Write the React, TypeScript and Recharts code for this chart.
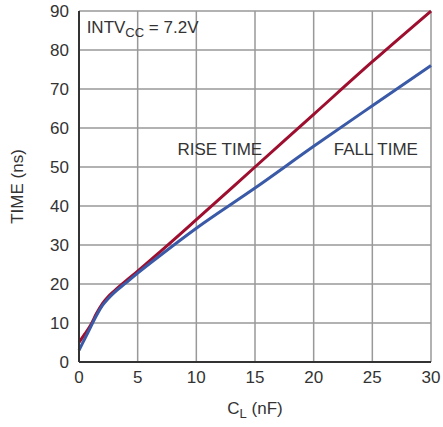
import { LineChart, Line, XAxis, YAxis, CartesianGrid, ReferenceDot } from "recharts"

// load capacitance in nF
const capacitance = [0, 0.5, 1, 1.5, 2, 2.5, 3, 4, 5, 7, 10, 15, 20, 25, 30]
// times in ns
const riseTime = [5, 7.2, 9.5, 12.5, 15, 16.8, 18.2, 20.8, 23.3, 28.5, 36.5, 50, 63.5, 77, 90]
const fallTime = [3, 6, 9, 12, 14.5, 16.3, 17.8, 20.3, 22.8, 27.5, 34.3, 44.6, 55.3, 65.7, 76]

const xTicks = [0, 5, 10, 15, 20, 25, 30]
const yTicks = [0, 10, 20, 30, 40, 50, 60, 70, 80, 90]

const data = capacitance.map((c, i) => ({ c, rise: riseTime[i], fall: fallTime[i] }))

const font = "'Liberation Sans Narrow', 'Arial Narrow', 'Liberation Sans', sans-serif"
const ink = "#333"

export default function App() {
  return (
    <div style={{ position: "absolute", left: 0, top: 0, fontFamily: font }}>
      <LineChart width={443} height={427} data={data} margin={{ top: 11, right: 12, bottom: 0, left: 0 }}>
        <CartesianGrid stroke="#999" strokeWidth={1.5} />
        <XAxis
          dataKey="c"
          type="number"
          domain={[0, 30]}
          ticks={xTicks}
          height={65}
          tickSize={0}
          tickMargin={9}
          tick={{ fill: ink, fontSize: 17, fontFamily: font }}
          axisLine={{ stroke: ink, strokeWidth: 2 }}
          label={{
            content: (props: any) => {
              const vb = props.viewBox
              return (
                <text x={vb.x + vb.width / 2} y={vb.y + 52} textAnchor="middle" fill={ink} fontSize={17} fontFamily={font}>
                  C<tspan fontSize={13} dy={4}>L</tspan>
                  <tspan dy={-4}> (nF)</tspan>
                </text>
              )
            },
          }}
        />
        <XAxis xAxisId="top" orientation="top" dataKey="c" type="number" domain={[0, 30]} height={0} tick={false} tickLine={false} axisLine={{ stroke: ink, strokeWidth: 2 }} />
        <YAxis
          type="number"
          domain={[0, 90]}
          ticks={yTicks}
          width={79}
          tickSize={0}
          tickMargin={10}
          tick={{ fill: ink, fontSize: 17, fontFamily: font }}
          axisLine={{ stroke: ink, strokeWidth: 2 }}
          label={{ value: "TIME (ns)", angle: -90, position: "insideLeft", offset: 17, style: { textAnchor: "middle", fill: ink, fontSize: 17, fontFamily: font } }}
        />
        <YAxis yAxisId="right" orientation="right" domain={[0, 90]} width={0} tick={false} tickLine={false} axisLine={{ stroke: ink, strokeWidth: 2 }} />
        <Line type="monotone" dataKey="rise" stroke="#9e0f2f" strokeWidth={3} dot={false} isAnimationActive={false} />
        <Line type="monotone" dataKey="fall" stroke="#3a5aa8" strokeWidth={3} dot={false} isAnimationActive={false} />
        <ReferenceDot
          x={0.65}
          y={86}
          r={0}
          label={{
            content: (props: any) => {
              const vb = props.viewBox
              return (
                <text x={vb.x} y={vb.y + 6} fill={ink} fontSize={17} fontFamily={font}>
                  INTV<tspan fontSize={13} dy={4}>CC</tspan>
                  <tspan dy={-4}> = 7.2V</tspan>
                </text>
              )
            },
          }}
        />
        <ReferenceDot x={12.0} y={54.5} r={0} label={{ value: "RISE TIME", position: "center", fill: ink, fontSize: 17, fontFamily: font }} />
        <ReferenceDot x={25.3} y={54.5} r={0} label={{ value: "FALL TIME", position: "center", fill: ink, fontSize: 17, fontFamily: font }} />
      </LineChart>
    </div>
  )
}
